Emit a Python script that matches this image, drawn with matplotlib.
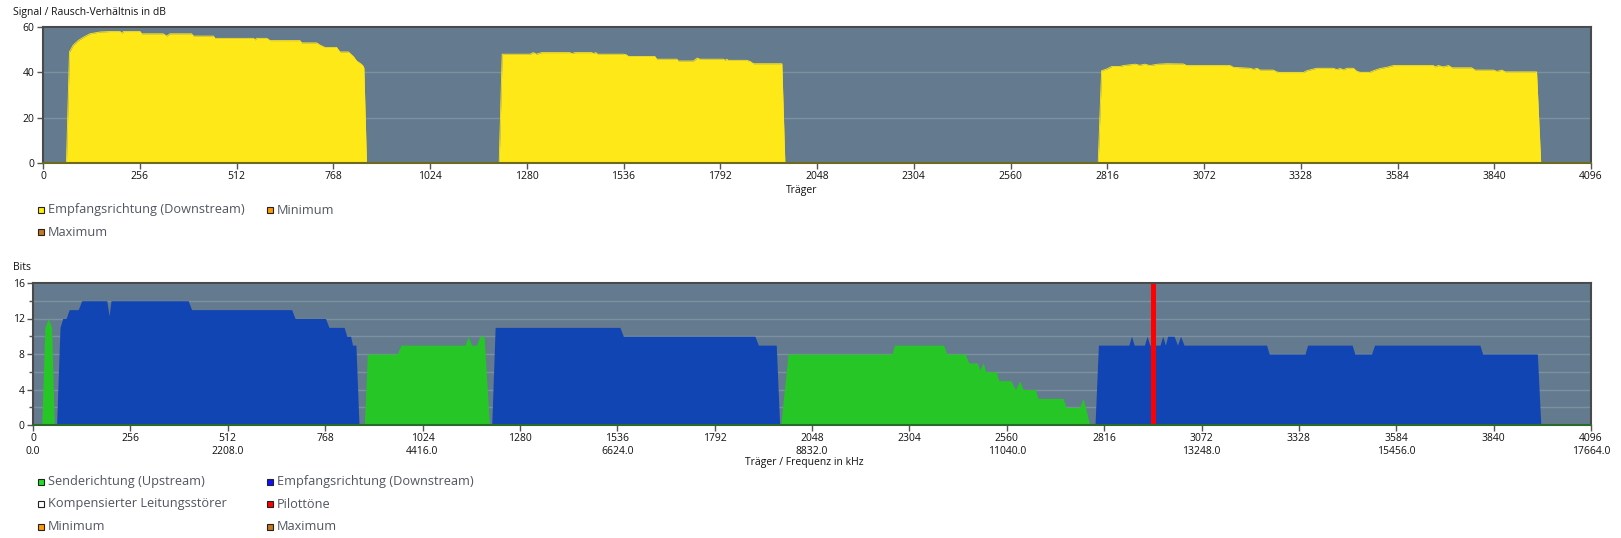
import numpy as np
import matplotlib.pyplot as plt
from matplotlib.lines import Line2D

# =========================
# DATA
# =========================
snr_carriers = [62, 70, 80, 93, 107, 124, 151, 177, 204, 208, 213, 257, 261, 318, 327, 336,
                393, 398, 451, 455, 557, 561, 565, 592, 601, 680, 684, 724, 733, 746, 777,
                781, 786, 808, 821, 830, 839, 846, 849, 856,
                1207, 1215, 1289, 1297, 1306, 1319, 1394, 1399, 1408, 1452, 1456, 1463, 1467,
                1536, 1544, 1549, 1619, 1624, 1677, 1681, 1721, 1731, 1738, 1800, 1805, 1809,
                1813, 1862, 1871, 1880, 1955, 1963,
                2792, 2801, 2815, 2828, 2850, 2859, 2890, 2902, 2915, 2929, 2950, 2973, 3017,
                3026, 3141, 3150, 3194, 3203, 3212, 3220, 3255, 3264, 3273, 3335, 3344, 3370,
                3414, 3423, 3432, 3441, 3450, 3467, 3476, 3485, 3511, 3520, 3538, 3555, 3573,
                3679, 3683, 3692, 3705, 3719, 3728, 3780, 3789, 3838, 3847, 3860, 3869, 3952,
                3963]
snr_values = [0, 49, 52, 54, 55.5, 57, 57.8, 58, 58, 57.3, 58, 58, 57, 57, 56, 57,
              57, 56, 56, 55, 55, 54.3, 55, 55, 54, 54, 53, 53, 52, 51, 51,
              50, 49, 49, 47, 45, 44, 43, 42, 0,
              0, 48, 48, 48.7, 48, 48.7, 48.7, 48.3, 48.7, 48.7, 48.3, 48.7, 48,
              48, 47.7, 47, 47, 45.8, 45.8, 45, 45, 46.3, 45.8, 45.8, 45.3, 45.8,
              45.3, 45.3, 44.8, 43.8, 43.8, 0,
              0, 40.7, 41.5, 42.6, 42.6, 43, 43.6, 43.1, 43.6, 43, 43.6, 43.8, 43.7,
              43, 43, 42.2, 41.8, 41.3, 41.8, 41, 41, 40.2, 39.9, 39.9, 40.7, 41.8,
              41.8, 41.2, 41.7, 41.1, 41.8, 41.8, 40.5, 40, 40, 40.7, 41.7, 42.2, 43,
              43, 42.4, 43, 42.4, 43, 42, 42, 41, 41, 40.4, 41, 40.2, 40.2,
              0]

up_carriers = [23, 31, 40, 49, 56,
               871, 879, 958, 967, 1136, 1144, 1153, 1166, 1175, 1186, 1200,
               1966, 1985, 2258, 2265, 2394, 2403, 2451, 2460, 2483, 2489, 2498, 2505,
               2533, 2539, 2571, 2583, 2594, 2603, 2635, 2642, 2708, 2716, 2752, 2760,
               2767, 2778]
up_bits = [0, 11, 12, 11, 0,
           0, 8, 8, 9, 9, 10, 9, 9, 10, 10, 0,
           0, 8, 8, 9, 9, 8, 8, 7, 7, 6.2, 7, 6,
           6, 5, 5, 4, 5, 4, 4, 3, 3, 2, 2, 3,
           2, 0]

down_carriers = [62, 71, 78, 87, 95, 119, 128, 194, 200, 205, 408, 417, 680, 689, 769, 778,
                 818, 825, 835, 840, 849, 857,
                 1206, 1215, 1543, 1552, 1898, 1907, 1954, 1963,
                 2792, 2801, 2881, 2888, 2895, 2922, 2929, 2936, 2963, 2970, 2977, 2983,
                 3000, 3009, 3017, 3026, 3243, 3250, 3344, 3351, 3468, 3475, 3519, 3527,
                 3804, 3811, 3955, 3964]
down_bits = [0, 11, 12, 12, 13, 13, 14, 14, 12.3, 14, 14, 13, 13, 12, 12, 11,
             11, 10, 10, 9, 9, 0,
             0, 11, 11, 10, 10, 9, 9, 0,
             0, 9, 9, 10, 9, 9, 10, 9, 9, 10, 9, 10,
             10, 9, 10, 9, 9, 8, 8, 9, 9, 8, 8, 9,
             9, 8, 8, 0]

pilot_carrier = 2946

carrier_ticks = [0, 256, 512, 768, 1024, 1280, 1536, 1792, 2048, 2304, 2560, 2816,
                 3072, 3328, 3584, 3840, 4096]
freq_labels = ["0.0", "", "2208.0", "", "4416.0", "", "6624.0", "", "8832.0", "",
               "11040.0", "", "13248.0", "", "15456.0", "", "17664.0"]

top_legend = [("Empfangsrichtung (Downstream)", "#ffee00"),
              ("Minimum", "#ff9a00"),
              ("Maximum", "#c8761e")]
bottom_legend = [("Senderichtung (Upstream)", "#22e022"),
                 ("Empfangsrichtung (Downstream)", "#1010ff"),
                 ("Kompensierter Leitungsstörer", "#ffffff"),
                 ("Pilottöne", "#ff0000"),
                 ("Minimum", "#ff9a00"),
                 ("Maximum", "#c8761e")]

# =========================
# STYLE
# =========================
W, H = 1621, 538
BG = "#647a8e"
GRID = "#7d90a2"
YELLOW = "#ffe817"
BLUE = "#1245b4"
GREEN = "#26c626"
TXT = "#505560"

plt.rcParams['font.family'] = ['Open Sans', 'DejaVu Sans']

fig = plt.figure(figsize=(W / 100, H / 100), dpi=100)


def px_box(x0, y0, x1, y1):
    return [x0 / W, 1 - y1 / H, (x1 - x0) / W, (y1 - y0) / H]


def style_axes(ax, base_color):
    ax.set_facecolor(BG)
    for s in ax.spines.values():
        s.set_color("#4a4a4a")
        s.set_linewidth(1.5)
    ax.spines["bottom"].set_color(base_color)
    ax.set_xlim(0, 4096)
    ax.set_xticks(carrier_ticks)
    ax.tick_params(axis="both", which="both", colors="#555555", labelcolor="#111111",
                   labelsize=7.5, length=4, width=1, pad=2)
    ax.set_axisbelow(True)


# =========================
# TOP: SNR
# =========================
ax1 = fig.add_axes(px_box(43, 27, 1591, 163))
style_axes(ax1, "#6b6a1e")
ax1.set_ylim(0, 60)
ax1.set_yticks([0, 20, 40, 60])
ax1.grid(axis="y", color=GRID, linewidth=1)
ax1.fill_between(snr_carriers, 0, snr_values, color=YELLOW, linewidth=0)
ax1.plot(snr_carriers, snr_values, color=YELLOW, linewidth=0.6)
ax1.set_xticklabels([str(c) for c in carrier_ticks])

fig.text(13 / W, 1 - 12 / H, "Signal / Rausch-Verhältnis in dB", fontsize=7.5,
         color="#111111", va="center", ha="left")
fig.text(802 / W, 1 - 191 / H, "Träger", fontsize=7.5, color="#111111",
         va="center", ha="center")

# =========================
# BOTTOM: BITS
# =========================
ax2 = fig.add_axes(px_box(33, 283, 1591, 425))
style_axes(ax2, "#2a6a2a")
ax2.set_ylim(0, 16)
ax2.set_yticks([0, 4, 8, 12, 16])
ax2.set_yticks([2, 6, 10, 14], minor=True)
ax2.tick_params(axis="y", which="minor", length=3)
ax2.grid(axis="y", which="both", color=GRID, linewidth=1)
ax2.fill_between(up_carriers, 0, up_bits, color=GREEN, linewidth=0)
ax2.fill_between(down_carriers, 0, down_bits, color=BLUE, linewidth=0)
ax2.bar([pilot_carrier], [16], width=13, color="#ff0000", linewidth=0)
ax2.set_xticklabels([f"{c}\n{f}" if f else str(c) for c, f in zip(carrier_ticks, freq_labels)],
                    linespacing=1.15)

fig.text(13 / W, 1 - 268 / H, "Bits", fontsize=7.5, color="#111111",
         va="center", ha="left")
fig.text(804 / W, 1 - 463 / H, "Träger / Frequenz in kHz", fontsize=7.5,
         color="#111111", va="center", ha="center")


# =========================
# LEGENDS
# =========================
def legend_item(x, y, label, color):
    fig.add_artist(Line2D([x / W], [1 - y / H], marker="s", markersize=4.6,
                          markerfacecolor=color, markeredgecolor="#222222",
                          markeredgewidth=0.8, transform=fig.transFigure))
    fig.text((x + 7) / W, 1 - y / H, label, fontsize=9.2, color=TXT,
             va="center", ha="left")


cols = [41, 270]
top_rows = [210, 232]
for i, (label, color) in enumerate(top_legend):
    legend_item(cols[i % 2], top_rows[i // 2], label, color)

bottom_rows = [482, 504, 527]
for i, (label, color) in enumerate(bottom_legend):
    legend_item(cols[i % 2], bottom_rows[i // 2], label, color)

fig.savefig("out.png", dpi=100, facecolor="white")
